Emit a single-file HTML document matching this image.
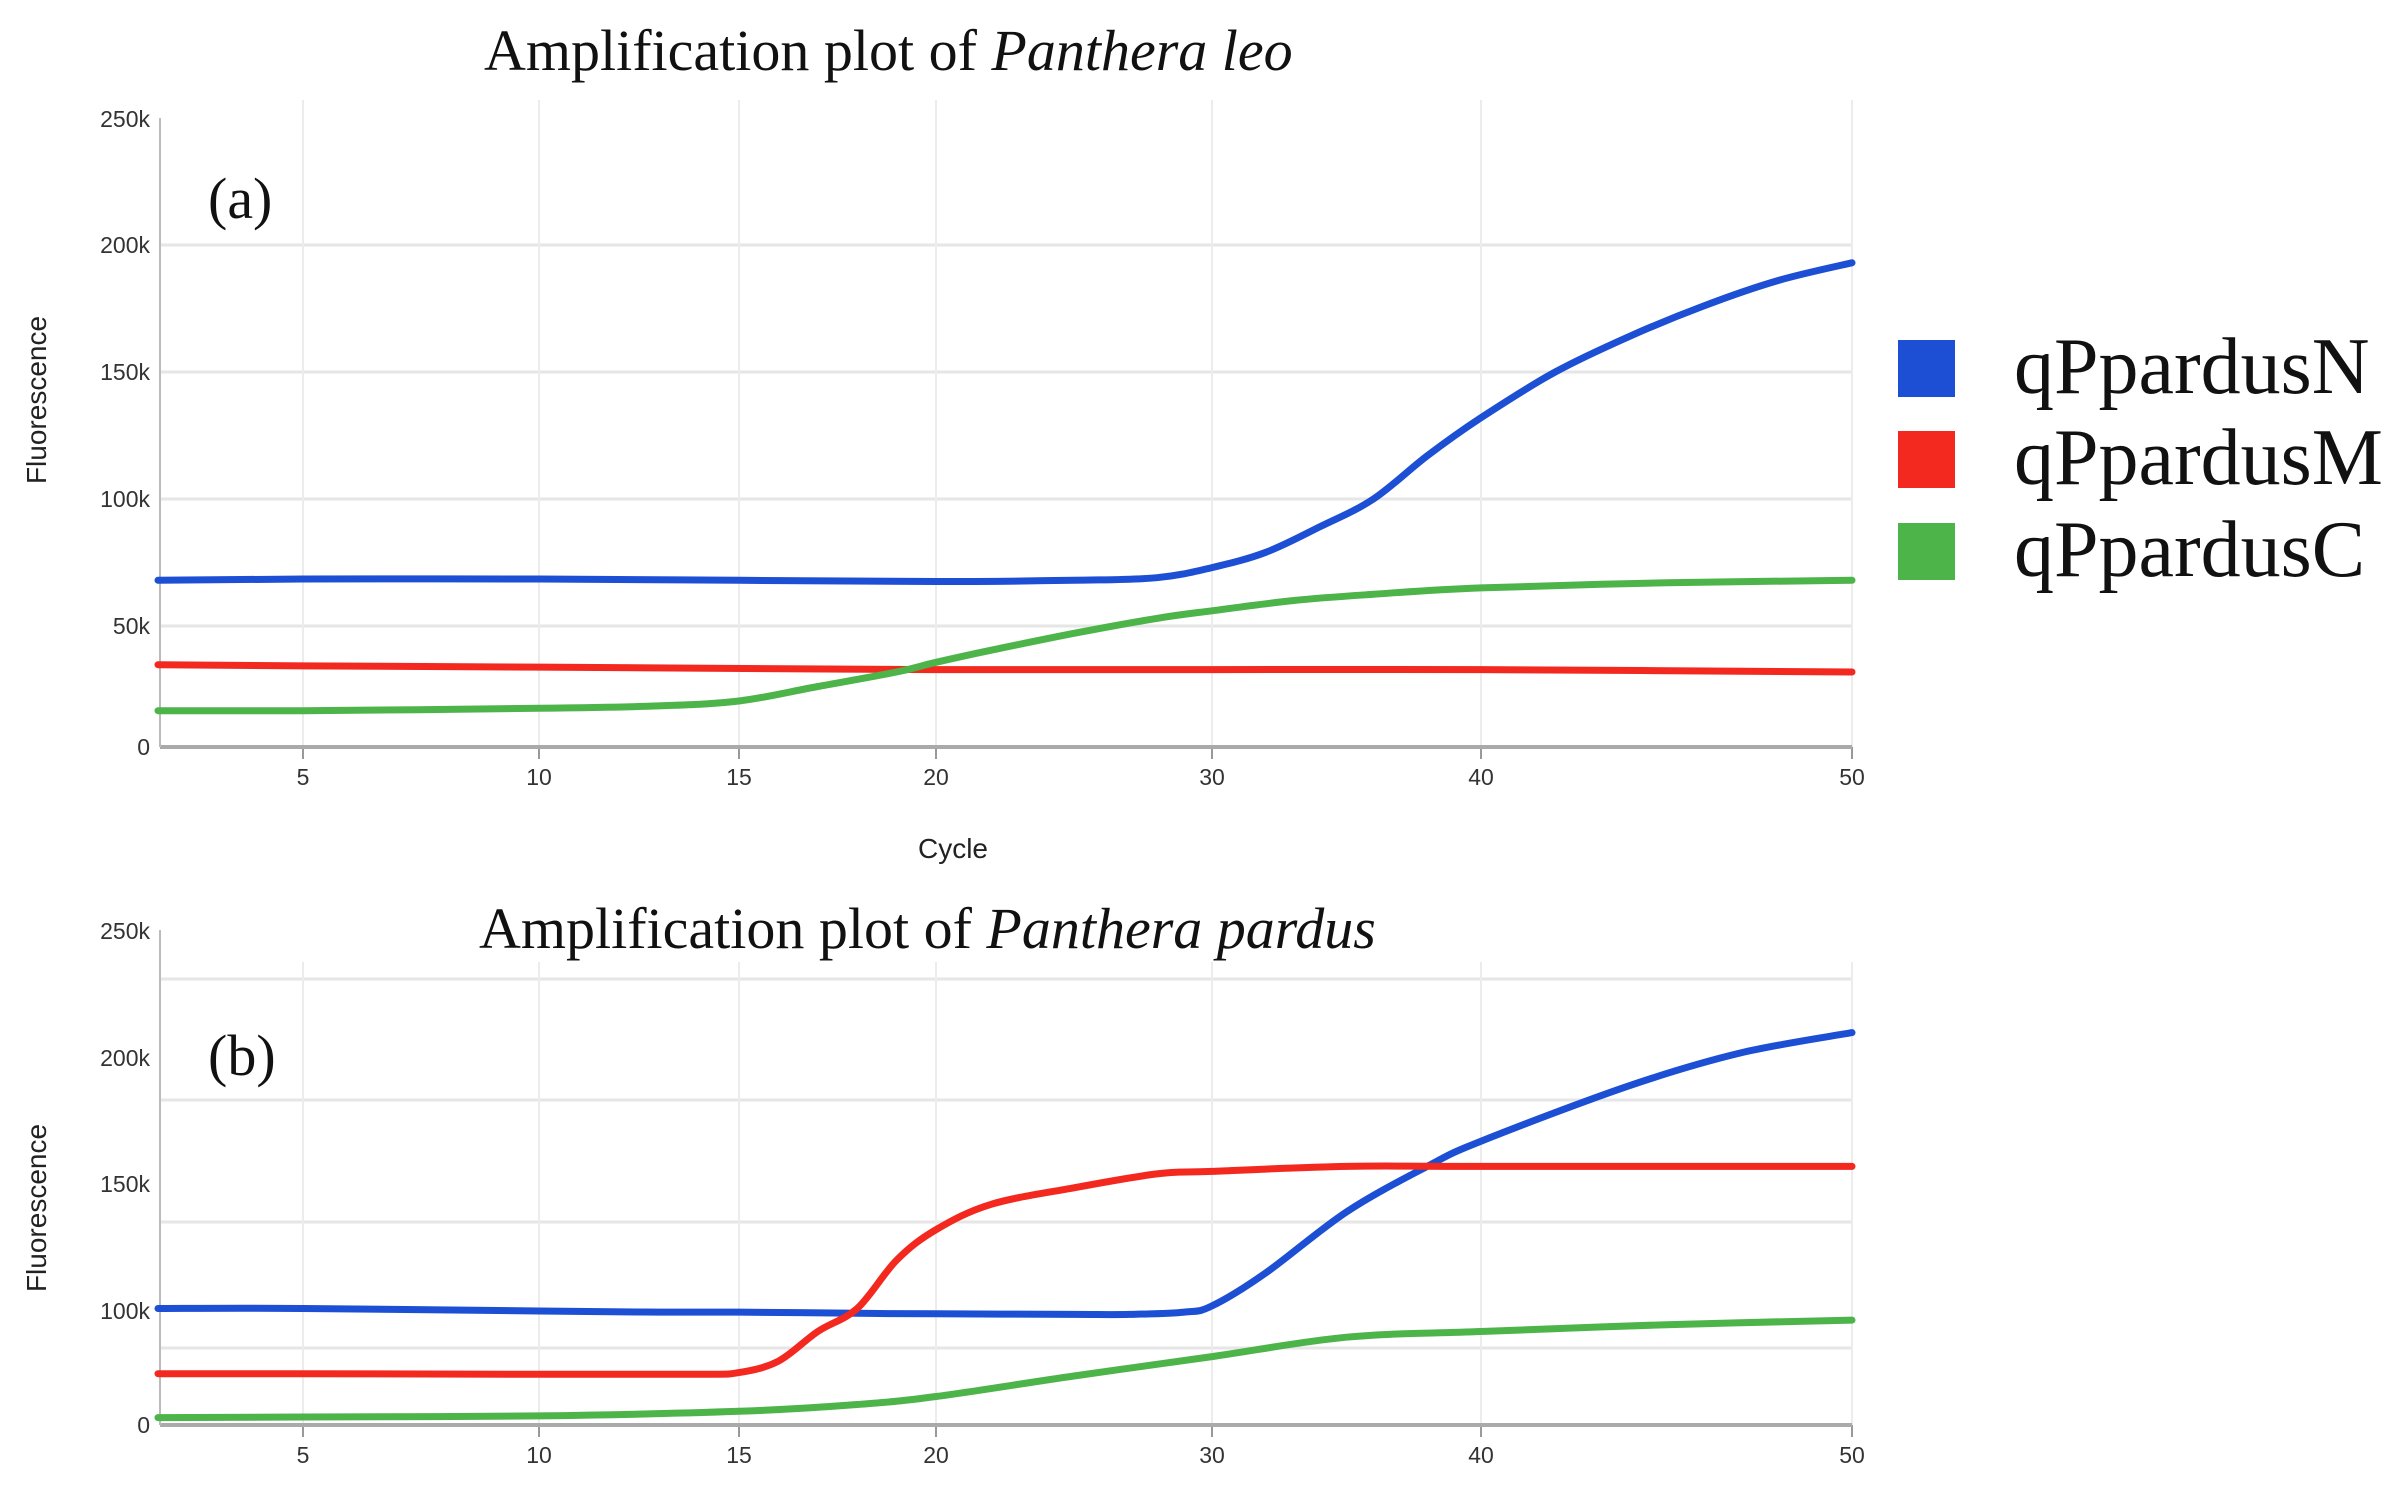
<!DOCTYPE html>
<html><head><meta charset="utf-8"><style>
body{margin:0;background:#fff;}
svg{display:block;}
.tk{font-family:"Liberation Sans Narrow","Liberation Sans",sans-serif;font-size:23px;fill:#333;}
.ttl{font-family:"Liberation Serif",serif;font-size:58px;fill:#111;}
.lg{font-family:"Liberation Serif",serif;font-size:80px;fill:#111;}
.ax{font-family:"Liberation Sans",sans-serif;font-size:28px;fill:#222;}
</style></head><body>
<svg id="c" width="2398" height="1492" viewBox="0 0 2398 1492" xmlns="http://www.w3.org/2000/svg"></svg>
<script>
// x axis (shared)
const xTickVals=[5,10,15,20,30,40,50];
const xTickLabels=["5","10","15","20","30","40","50"];
// y ticks
const yTickVals=[0,50,100,150,200,250];
const yTickLabels=["0","50k","100k","150k","200k","250k"];
const yTickValsB=[0,100,150,200,250];
const yTickLabelsB=["0","100k","150k","200k","250k"];
// series: panel a
const cyclesA_N=[1,5,10,15,20,25,28,30,32,34,36,38,40,42,44,46,48,50];
const valsA_N=[68,68.5,68.5,68,67.5,68,69,73,79,89,100,117,132,150,164,176,186,193];
const cyclesA_M=[1,5,10,20,30,40,50];
const valsA_M=[34,33.5,33,32,32,32,31];
const cyclesA_C=[1,5,10,13,15,17,19,20,22,25,28,30,33,36,40,45,50];
const valsA_C=[15,15,16,17,19,25,31,35,40,47,53,56,60,62.5,65,67,68];
// series: panel b
const cyclesB_N=[1,5,10,13,15,18,20,25,27,29,30,32,35,38,40,44,47,50];
const valsB_N=[101,101,100,99,99,98,97.5,97,97,99,102,115,139,157,167,189,202,210];
const cyclesB_M=[1,5,10,14,15,16,17,18,19,20,22,25,28,30,35,40,50];
const valsB_M=[45,45,44.5,44.5,46,56,82,101,120,132,142,148.5,154,155,157,157,157];
const cyclesB_C=[1,5,10,15,18,20,25,30,35,40,45,50];
const valsB_C=[6.5,7,8,12,18,25,43,60,77,82,88,92];

const NS="http://www.w3.org/2000/svg";
const svg=document.getElementById('c');
function mk(t,a,p){const e=document.createElementNS(NS,t);for(const k in a)e.setAttribute(k,a[k]);(p||svg).appendChild(e);return e;}
function pw(v,ds,ps){if(v<=ds[0])return ps[0]+(v-ds[0])*(ps[1]-ps[0])/(ds[1]-ds[0]);for(let i=1;i<ds.length;i++){if(v<=ds[i])return ps[i-1]+(v-ds[i-1])*(ps[i]-ps[i-1])/(ds[i]-ds[i-1]);}const n=ds.length-1;return ps[n]+(v-ds[n])*(ps[n]-ps[n-1])/(ds[n]-ds[n-1]);}
const xs=c=>pw(c,[1,5,10,15,20,30,40,50],[158,303,539,739,936,1212,1481,1852]);
const ysA=v=>pw(v,[0,50,100,150,200,250],[747,626,499,372,245,119]);
const ysB=v=>pw(v,[0,100,150,200,250],[1425,1311,1184,1058,931]);
const colN="#1c4fd4",colM="#f3281f",colC="#4db449";
function smooth(P){let d='M'+P[0][0].toFixed(1)+','+P[0][1].toFixed(1);
  for(let i=0;i<P.length-1;i++){const p0=P[i-1]||P[i],p1=P[i],p2=P[i+1],p3=P[i+2]||p2;
    const c1=[p1[0]+(p2[0]-p0[0])/6,p1[1]+(p2[1]-p0[1])/6],c2=[p2[0]-(p3[0]-p1[0])/6,p2[1]-(p3[1]-p1[1])/6];
    d+='C'+c1[0].toFixed(1)+','+c1[1].toFixed(1)+' '+c2[0].toFixed(1)+','+c2[1].toFixed(1)+' '+p2[0].toFixed(1)+','+p2[1].toFixed(1);}
  return d;}

function panel(tag,ys,yv,yl,top,bot,hgrid,vtop,sets){
  const g=mk('g',{});
  
  
  hgrid.forEach(y=>{const l=mk('line',{x1:160,x2:1852,y1:y,y2:y,stroke:'#e6e6e6','stroke-width':3},g);
    });
  xTickVals.forEach((v,i)=>{const x=xs(v);
    const l=mk('line',{x1:x,x2:x,y1:vtop,y2:bot,stroke:'#ececec','stroke-width':2},g);
    
    const t=mk('line',{x1:x,x2:x,y1:bot,y2:bot+12,stroke:'#999','stroke-width':2},g);
    
    const tx=mk('text',{x:x,y:bot+38,'text-anchor':'middle',class:'tk'},g);tx.textContent=xTickLabels[i];
    });
  const ax=mk('line',{x1:160,x2:1852,y1:bot,y2:bot,stroke:'#aaa','stroke-width':4},g);
  
  const ay=mk('line',{x1:160,x2:160,y1:top,y2:bot,stroke:'#bbb','stroke-width':2},g);
  
  yv.forEach((v,i)=>{const y=ys(v);
    const tx=mk('text',{x:150,y:y+8,'text-anchor':'end',class:'tk'},g);tx.textContent=yl[i];
    });
  sets.forEach(s=>{const P=s.c.map((c,i)=>[xs(c),ys(s.v[i])]);
    const p=mk('path',{d:smooth(P),fill:'none',stroke:s.col,'stroke-width':7,'stroke-linejoin':'round','stroke-linecap':'round'},g);
    });
}
panel('a',ysA,yTickVals,yTickLabels,118,747,[245,372,499,626],100,[
 {c:cyclesA_M,v:valsA_M,col:colM,n:'line-qppardusm-a'},
 {c:cyclesA_C,v:valsA_C,col:colC,n:'line-qppardusc-a'},
 {c:cyclesA_N,v:valsA_N,col:colN,n:'line-qppardusn-a'}]);
panel('b',ysB,yTickValsB,yTickLabelsB,930,1425,[979,1100,1222,1348],962,[
 {c:cyclesB_C,v:valsB_C,col:colC,n:'line-qppardusc-b'},
 {c:cyclesB_N,v:valsB_N,col:colN,n:'line-qppardusn-b'},
 {c:cyclesB_M,v:valsB_M,col:colM,n:'line-qppardusm-b'}]);
</script>
<script>
(function(){
const NS="http://www.w3.org/2000/svg";const svg=document.getElementById('c');
function tx(a,html,name){const e=document.createElementNS(NS,'text');for(const k in a)e.setAttribute(k,a[k]);e.innerHTML=html;
 
 svg.appendChild(e);return e;}
tx({x:484,y:70,class:'ttl'},'Amplification plot of <tspan font-style="italic">Panthera leo</tspan>','title-a');
tx({x:479,y:948,class:'ttl'},'Amplification plot of <tspan font-style="italic">Panthera pardus</tspan>','title-b');
tx({x:208,y:218,class:'ttl','font-size':'58'},'(a)','panel-label-a');
tx({x:208,y:1075,class:'ttl','font-size':'58'},'(b)','panel-label-b');
tx({x:0,y:0,class:'ax','text-anchor':'middle',transform:'translate(46,400) rotate(-90)'},'Fluorescence','y-axis-title-a');
tx({x:0,y:0,class:'ax','text-anchor':'middle',transform:'translate(46,1208) rotate(-90)'},'Fluorescence','y-axis-title-b');
tx({x:953,y:858,class:'ax','text-anchor':'middle'},'Cycle','x-axis-title');
const L=[['#1c4fd4','qPpardusN',340],['#f3281f','qPpardusM',431],['#4db449','qPpardusC',523]];
L.forEach(l=>{const r=document.createElementNS(NS,'rect');
 r.setAttribute('x',1898);r.setAttribute('y',l[2]);r.setAttribute('width',57);r.setAttribute('height',57);r.setAttribute('fill',l[0]);
 
 
 svg.appendChild(r);
 tx({x:2014,y:l[2]+53,class:'lg'},l[1],'legend-entry');});
})();
</script>
</body></html>
